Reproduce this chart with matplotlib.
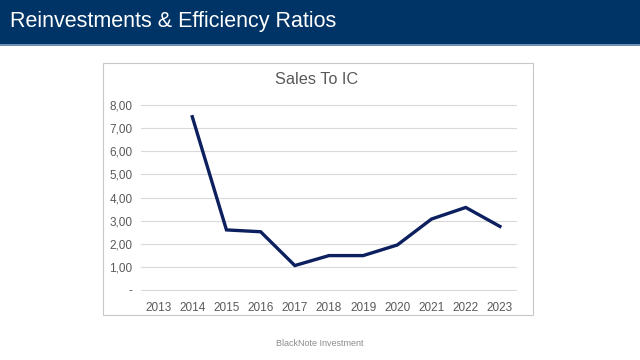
import matplotlib.pyplot as plt
from matplotlib.patches import Rectangle
from matplotlib.ticker import FuncFormatter

years = ['2013', '2014', '2015', '2016', '2017', '2018', '2019', '2020', '2021', '2022', '2023']
sales_to_ic = [None, 7.49, 2.60, 2.52, 1.06, 1.49, 1.49, 1.95, 3.07, 3.57, 2.75]

W, H = 640, 360
fig = plt.figure(figsize=(6.4, 3.6), dpi=100)
plt.rcParams['font.family'] = ['Liberation Sans', 'DejaVu Sans']

# header band
fig.patches.append(Rectangle((0, 1 - 44 / H), 1, 44 / H, transform=fig.transFigure,
                             facecolor='#003366', edgecolor='none', zorder=0))
fig.patches.append(Rectangle((0, 1 - 46 / H), 1, 2 / H, transform=fig.transFigure,
                             facecolor='#6f8db5', edgecolor='none', zorder=0))
fig.text(10 / W, 1 - 22 / H, 'Reinvestments & Efficiency Ratios', color='white',
         fontsize=15.5, va='center', ha='left')

# chart frame
fig.patches.append(Rectangle((103 / W, 1 - 315 / H), 430 / W, 252 / H, transform=fig.transFigure,
                             facecolor='white', edgecolor='#c8c8c8', linewidth=0.8, zorder=0))
fig.text(317 / W, 1 - 80 / H, 'Sales To IC', color='#595959', fontsize=11.7,
         ha='center', va='center')

ax = fig.add_axes([141 / W, 1 - 291 / H, 376 / W, 187 / H])
ax.set_zorder(2)
x = list(range(len(years)))
xs = [i for i, v in zip(x, sales_to_ic) if v is not None]
ys = [v for v in sales_to_ic if v is not None]
ax.plot(xs, ys, color='#0c1f5e', linewidth=2.4, solid_joinstyle='miter')
ax.set_xlim(-0.5, len(years) - 0.5)
ax.set_ylim(-0.04, 8.04)
ax.set_yticks(range(0, 9))
ax.yaxis.set_major_formatter(FuncFormatter(lambda v, p: '-' if v == 0 else f'{v:.2f}'.replace('.', ',')))
ax.set_xticks(x)
ax.set_xticklabels(years)
ax.grid(axis='y', color='#d9d9d9', linewidth=0.8)
ax.set_axisbelow(True)
for s in ['top', 'right', 'left', 'bottom']:
    ax.spines[s].set_visible(False)
ax.tick_params(length=0, labelsize=8.5, labelcolor='#595959', pad=6)
ax.tick_params(axis='x', pad=8)
ax.set_facecolor('none')

fig.text(320 / W, 1 - 343 / H, 'BlackNote Investment', color='#8c8c8c', fontsize=6.5,
         ha='center', va='center')

fig.savefig('out.png', dpi=100)
